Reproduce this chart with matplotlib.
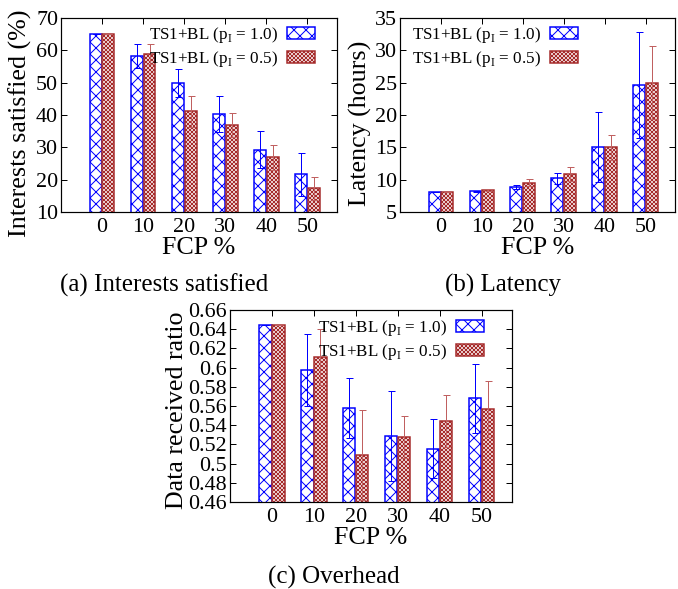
import matplotlib
matplotlib.use('Agg')
import matplotlib.pyplot as plt
import numpy as np

plt.rcParams['font.family'] = ['Liberation Serif', 'DejaVu Serif']
plt.rcParams['mathtext.fontset'] = 'custom'
plt.rcParams['mathtext.rm'] = 'Liberation Serif'
plt.rcParams['hatch.linewidth'] = 1.0

# data
fcp = ['0', '10', '20', '30', '40', '50']
labels = ['TS1+BL (p$_{\\mathregular{I}}$ = 1.0)', 'TS1+BL (p$_{\\mathregular{I}}$ = 0.5)']

sat_p10 = [65.0, 58.3, 49.9, 40.4, 29.3, 21.6]
sat_p10_err = [0, 3.8, 4.2, 5.6, 5.7, 6.7]
sat_p05 = [65.0, 58.9, 41.1, 36.9, 26.9, 17.3]
sat_p05_err = [0, 3.2, 4.8, 3.7, 3.8, 3.6]

lat_p10 = [8.1, 8.2, 8.8, 10.2, 15.1, 24.6]
lat_p10_err = [0, 0.1, 0.3, 0.8, 5.4, 8.2]
lat_p05 = [8.1, 8.35, 9.55, 10.9, 15.0, 25.0]
lat_p05_err = [0, 0.15, 0.55, 1.1, 1.9, 5.6]

dr_p10 = [0.644, 0.598, 0.558, 0.529, 0.5155, 0.568]
dr_p10_err = [0, 0.0375, 0.031, 0.047, 0.031, 0.036]
dr_p05 = [0.644, 0.611, 0.509, 0.528, 0.5446, 0.557]
dr_p05_err = [0, 0.029, 0.047, 0.022, 0.027, 0.029]

W, H = 678, 589
fig = plt.figure(figsize=(W / 72, H / 72), dpi=72)

blue = '#0000ff'
red = '#a52a2a'
red_err = '#c06060'


def make_ax(l, r, t, b):
    return fig.add_axes([l / W, 1 - b / H, (r - l) / W, (b - t) / H])


def panel(ax, y1, e1, y2, e2, ylim, yticks, ylabel, lab_xy, leg_x, leg_y, ytfmt=None):
    x = np.arange(len(fcp))
    w = 0.29
    ax.bar(x - 0.155, y1, w, color='white', edgecolor=blue, hatch='xx', linewidth=1.5,
           label=labels[0], zorder=2)
    ax.bar(x + 0.155, y2, w, color='white', edgecolor=red, hatch='xxxxxx', linewidth=1.5,
           label=labels[1], zorder=2)
    ax.errorbar(x - 0.155, y1, yerr=e1, fmt='none', ecolor=blue, elinewidth=1, capsize=3.5,
                capthick=1, zorder=3)
    ax.errorbar(x + 0.155, y2, yerr=e2, fmt='none', ecolor=red_err, elinewidth=1, capsize=3.5,
                capthick=1, zorder=3)
    ax.set_xlim(-1.0, 5.72)
    ax.set_ylim(*ylim)
    ax.set_xticks(x)
    ax.set_xticklabels(fcp)
    ax.set_yticks(yticks)
    if ytfmt:
        ax.set_yticklabels([ytfmt(v) for v in yticks])
    ax.tick_params(direction='in', top=True, right=True, length=6, width=1, labelsize=22, pad=6)
    ax.tick_params(axis='y', pad=3)
    for s in ax.spines.values():
        s.set_linewidth(1.2)
    ax.set_xlabel('FCP %', fontsize=26, labelpad=0)
    ax.set_ylabel(ylabel, fontsize=26)
    ax.yaxis.set_label_coords(*lab_xy)
    ax.legend(loc='upper right', bbox_to_anchor=(leg_x, leg_y), frameon=False, markerfirst=False,
              fontsize=17, handlelength=1.65, handleheight=0.7, handletextpad=0.5,
              labelspacing=0.25, borderpad=0, borderaxespad=0)


ax1 = make_ax(61, 337, 18, 212)
panel(ax1, sat_p10, sat_p10_err, sat_p05, sat_p05_err, (10, 70), np.arange(10, 71, 10),
      'Interests satisfied (%)', (-0.105, 0.455), 0.92, 0.965)

ax2 = make_ax(400, 675, 18, 212)
panel(ax2, lat_p10, lat_p10_err, lat_p05, lat_p05_err, (5, 35), np.arange(5, 36, 5),
      'Latency (hours)', (-0.102, 0.455), 0.647, 0.965)

ax3 = make_ax(230, 512, 310, 502)
ticks3 = np.round(np.arange(0.46, 0.661, 0.02), 2)
panel(ax3, dr_p10, dr_p10_err, dr_p05, dr_p05_err, (0.46, 0.66), ticks3,
      'Data received ratio', (-0.149, 0.48), 0.90, 0.958, ytfmt=lambda v: ('%g' % v))

fig.text(164 / W, 1 - 285 / H, '(a) Interests satisfied', ha='center', va='center', fontsize=25)
fig.text(503 / W, 1 - 285 / H, '(b) Latency', ha='center', va='center', fontsize=25)
fig.text(334 / W, 1 - 577 / H, '(c) Overhead', ha='center', va='center', fontsize=25)

fig.savefig('out.png', dpi=72)
